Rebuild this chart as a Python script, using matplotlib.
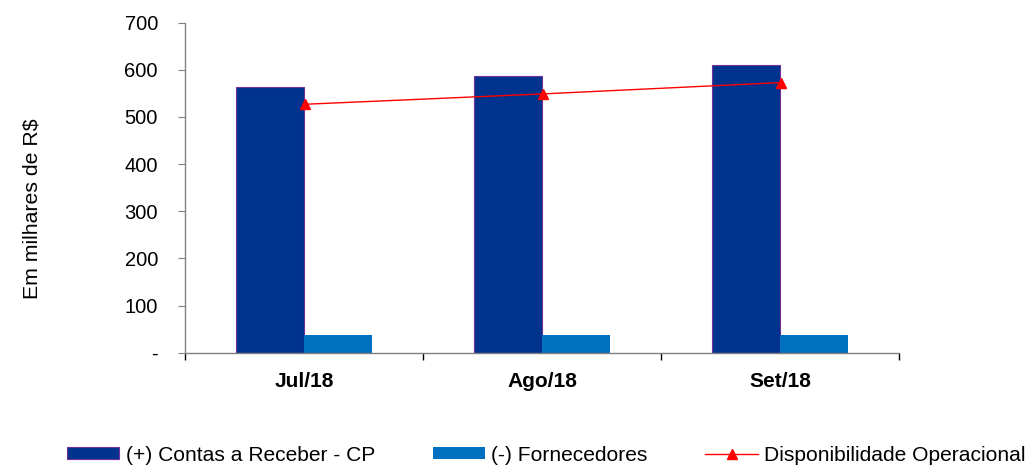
import matplotlib
matplotlib.use("Agg")
import matplotlib.pyplot as plt
import numpy as np

categories = ["Jul/18", "Ago/18", "Set/18"]
contas_receber = [564, 586, 610]
fornecedores = [37, 37, 37]
disponibilidade = [527, 549, 573]
ytick_vals = [0, 100, 200, 300, 400, 500, 600, 700]
ytick_labels = ["-", "100", "200", "300", "400", "500", "600", "700"]

plt.rcParams['font.family'] = ['Liberation Sans', 'DejaVu Sans']

fig = plt.figure(figsize=(10.30, 4.65), dpi=100)
ax = fig.add_axes([185/1030, 1-352.7/465, (899-185)/1030, (352.7-22.7)/465])

x = np.arange(len(categories))
w = 0.286
b1 = ax.bar(x - w/2, contas_receber, width=w, color="#00338D", edgecolor="#7030A0",
            linewidth=0.8, label="(+) Contas a Receber - CP", zorder=2)
b2 = ax.bar(x + w/2, fornecedores, width=w, color="#0070C0", linewidth=0,
            label="(-) Fornecedores", zorder=2)
ln, = ax.plot(x + 0.005, disponibilidade, color="#FF0000", linewidth=1, marker="^",
              markersize=7, label="Disponibilidade Operacional", zorder=3)

ax.set_xlim(-0.5, 2.5)
ax.set_ylim(0, 700)
ax.set_yticks(ytick_vals)
ax.set_yticklabels(ytick_labels, fontsize=14.5)
ax.set_xticks([-0.5, 0.5, 1.5, 2.5])
ax.set_xticklabels([])
ax.set_xticks(x, minor=True)
ax.set_xticklabels(categories, minor=True, fontsize=15, fontweight="bold")
ax.tick_params(axis="x", which="minor", length=0, pad=14)
ax.tick_params(axis="x", which="major", length=5, direction="out", color="black", width=1)
ax.tick_params(axis="y", length=5, direction="out", color="#808080", pad=14.5)

for s in ["top", "right"]:
    ax.spines[s].set_visible(False)
for s in ["left", "bottom"]:
    ax.spines[s].set_color("#808080")
    ax.spines[s].set_linewidth(1)

fig.text(32/1030, 1-209/465, "Em milhares de R$", rotation=90, fontsize=15.3,
         ha="center", va="center")

fig.legend([b1, b2, ln], [b1.get_label(), b2.get_label(), ln.get_label()],
           ncol=3, frameon=False, fontsize=15.1, loc="center left",
           bbox_to_anchor=(67/1030, 1-455/465), borderpad=0, borderaxespad=0,
           handlelength=2.5, handleheight=0.5, handletextpad=0.3, columnspacing=2.75)

fig.savefig("out.png", dpi=100)
